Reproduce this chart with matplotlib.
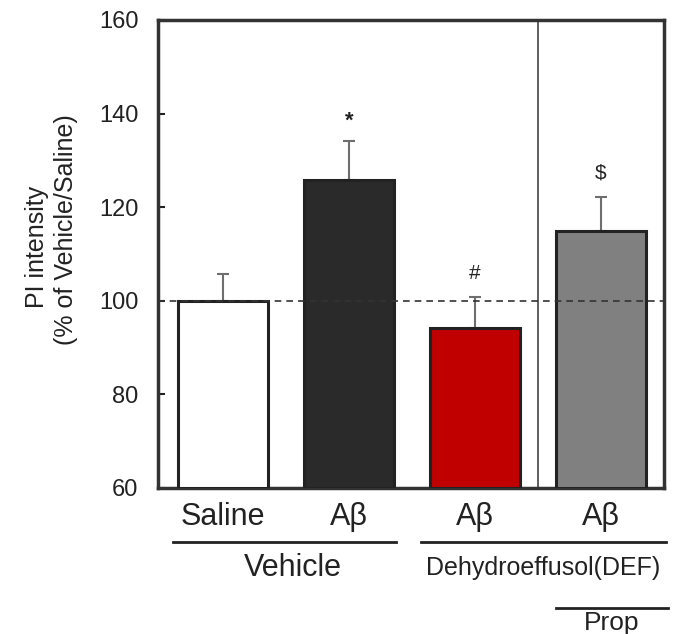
import matplotlib
matplotlib.use('Agg')
from matplotlib import pyplot as plt

plt.rcParams['font.family'] = ['Liberation Sans', 'DejaVu Sans']

groups = ['Saline', 'A\u03b2', 'A\u03b2', 'A\u03b2']
means = [100, 125.8, 94.1, 114.9]
errs = [5.7, 8.3, 6.7, 7.2]
colors = ['white', '#2a2a2a', '#c00000', '#808080']
marks = ['', '*', '#', '$']
mark_y = [0, 138.3, 105.8, 127.2]

x = range(len(means))

fig = plt.figure(figsize=(6.82, 6.34), dpi=100)
ax = fig.add_axes([0.2317, 0.2303, 0.7419, 0.7382])

ax.bar(x, [m - 60 for m in means], bottom=60, width=0.72, color=colors,
       edgecolor='#222222', linewidth=2.2, zorder=3)
ax.errorbar(x, means, yerr=[[0] * 4, errs], fmt='none', ecolor='#6e6e6e',
            elinewidth=1.5, capsize=4, capthick=1.5, zorder=2)
ax.axhline(100, color='#333333', linestyle=(0, (4, 3)), linewidth=1.2, zorder=4)
ax.axvline(2.5, color='#444444', linewidth=1.2, zorder=1)

for i in x:
    if marks[i]:
        ax.text(i, mark_y[i], marks[i], ha='center', va='center',
                fontsize=16 if marks[i] == '*' else 15, color='#222222',
                fontweight='bold' if marks[i] == '*' else 'normal')

ax.set_xlim(-0.516, 3.5)
ax.set_ylim(60, 160)
ax.set_yticks([60, 80, 100, 120, 140, 160])
ax.set_xticks([])
ax.tick_params(axis='y', direction='in', length=5, width=1.5, labelsize=17,
               pad=14, colors='#222222')
for s in ax.spines.values():
    s.set_linewidth(2.5)
    s.set_color('#333333')

# y label
fig.text(37 / 682, 1 - 247 / 634, 'PI intensity', rotation=90, ha='center',
         va='center', fontsize=18, color='#222222')
fig.text(66 / 682, 1 - 230 / 634, '(% of Vehicle/Saline)', rotation=90,
         ha='center', va='center', fontsize=18, color='#222222')

# group labels under axis
for i in x:
    ax.text(i, -0.062, groups[i], transform=ax.get_xaxis_transform(),
            ha='center', va='center', fontsize=22, color='#222222')

def hline(x0, x1, y):
    fig.add_artist(plt.Line2D([x0 / 682, x1 / 682], [1 - y / 634, 1 - y / 634],
                              color='#222222', linewidth=2))

hline(173, 396, 542)
hline(421, 666, 542)
hline(556, 668, 608)
fig.text(293 / 682, 1 - 568 / 634, 'Vehicle', ha='center', va='center',
         fontsize=22, color='#222222')
fig.text(543 / 682, 1 - 568 / 634, 'Dehydroeffusol(DEF)', ha='center',
         va='center', fontsize=18, color='#222222')
fig.text(612 / 682, 1 - 623 / 634, 'Prop', ha='center', va='center',
         fontsize=19, color='#222222')

fig.savefig('out.png', dpi=100)
